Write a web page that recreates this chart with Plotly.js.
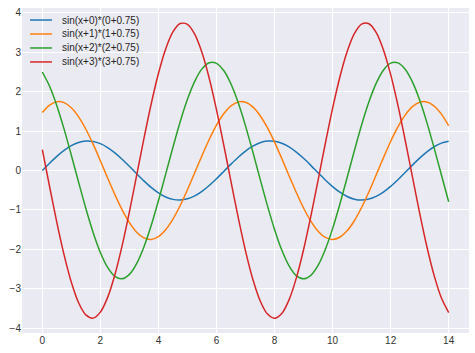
<!DOCTYPE html>
<html>
<head>
<meta charset="utf-8">
<script src="https://cdn.plot.ly/plotly-3.0.1.min.js"></script>
<style>html,body{margin:0;padding:0;background:#fff;}#chart{width:475px;height:353px;}</style>
</head>
<body>
<div id="chart"></div>
<script>
const xValues = [0,0.25,0.5,0.75,1,1.25,1.5,1.75,2,2.25,2.5,2.75,3,3.25,3.5,3.75,4,4.25,4.5,4.75,5,5.25,5.5,5.75,6,6.25,6.5,6.75,7,7.25,7.5,7.75,8,8.25,8.5,8.75,9,9.25,9.5,9.75,10,10.25,10.5,10.75,11,11.25,11.5,11.75,12,12.25,12.5,12.75,13,13.25,13.5,13.75,14];
const seriesNames = ["sin(x+0)*(0+0.75)","sin(x+1)*(1+0.75)","sin(x+2)*(2+0.75)","sin(x+3)*(3+0.75)"];
const series0 = [0,0.1856,0.3596,0.5112,0.6311,0.7118,0.7481,0.7380,0.6820,0.5836,0.4489,0.2863,0.1058,-0.0812,-0.2631,-0.4287,-0.5676,-0.6713,-0.7331,-0.7495,-0.7192,-0.6442,-0.5291,-0.3812,-0.2096,-0.0249,0.1613,0.3375,0.4928,0.6173,0.7035,0.7460,0.7421,0.6920,0.5989,0.4685,0.3091,0.1304,-0.0564,-0.2396,-0.4080,-0.5510,-0.6598,-0.7275,-0.7500,-0.7259,-0.6566,-0.5465,-0.4025,-0.2333,-0.0497,0.1370,0.3152,0.4737,0.6029,0.6945,0.7430];
const series1 = [1.4726,1.6608,1.7456,1.7220,1.5913,1.3617,1.0474,0.6680,0.2469,-0.1894,-0.6139,-1.0003,-1.3244,-1.5663,-1.7106,-1.7488,-1.6781,-1.5031,-1.2346,-0.8895,-0.4890,-0.0581,0.3764,0.7875,1.1498,1.4404,1.6415,1.7406,1.7315,1.6146,1.3974,1.0932,0.7212,0.3043,-0.1316,-0.5591,-0.9520,-1.2857,-1.5395,-1.6975,-1.7500,-1.6937,-1.5321,-1.2752,-0.9391,-0.5444,-0.1160,0.3196,0.7354,1.1053,1.4067,1.6205,1.7336,1.7388,1.6361,1.4315,1.1380];
const series2 = [2.5006,2.1398,1.6459,1.0497,0.3880,-0.2976,-0.9647,-1.5719,-2.0812,-2.4613,-2.6881,-2.7481,-2.6370,-2.3620,-1.9401,-1.3978,-0.7684,-0.0913,0.5915,1.2375,1.8068,2.2635,2.5795,2.7352,2.7209,2.5372,2.1959,1.7179,1.1333,0.4782,-0.2068,-0.8786,-1.4960,-2.0204,-2.4192,-2.6675,-2.7500,-2.6615,-2.4076,-2.0039,-1.4757,-0.8555,-0.1823,0.5022,1.1556,1.7369,2.2105,2.5465,2.7242,2.7324,2.5710,2.2495,1.7883,1.2158,0.5679,-0.1155,-0.7917];
const series3 = [0.5291,-0.4058,-1.3155,-2.1435,-2.8380,-3.3563,-3.6656,-3.7474,-3.5959,-3.2209,-2.6456,-1.9061,-1.0478,-0.1245,0.8066,1.6875,2.4638,3.0866,3.5175,3.7298,3.7103,3.4598,2.9944,2.3426,1.5454,0.6521,-0.2820,-1.1981,-2.0400,-2.7551,-3.2989,-3.6375,-3.7500,-3.6293,-3.2831,-2.7326,-2.0123,-1.1666,-0.2486,0.6848,1.5758,2.3685,3.0143,3.4725,3.7148,3.7260,3.5059,3.0675,2.4386,1.6579,0.7744,-0.1575,-1.0796,-1.9346,-2.6693,-3.2381,-3.6053];
const xTicks = [0,2,4,6,8,10,12,14];
const yTicks = [-4,-3,-2,-1,0,1,2,3,4];
const colors = ["#1f77b4","#ff7f0e","#2ca02c","#d62728"];

const allSeries = [series0, series1, series2, series3];
const traces = allSeries.map((ys, i) => ({
  x: xValues, y: ys, name: seriesNames[i], type: "scatter", mode: "lines",
  line: {color: colors[i], width: 1.5, shape: "spline", smoothing: 0.8}
}));

// custom legend (matplotlib-like compact spacing)
const legendRowY = [0.963, 0.920, 0.877, 0.834];
const shapes = seriesNames.map((n, i) => ({
  type: "line", xref: "paper", yref: "paper", layer: "above",
  x0: 0.018, x1: 0.067, y0: legendRowY[i], y1: legendRowY[i],
  line: {color: colors[i], width: 1.5}
}));
const annotations = seriesNames.map((n, i) => ({
  text: n, xref: "paper", yref: "paper", x: 0.085, y: legendRowY[i],
  xanchor: "left", yanchor: "middle", showarrow: false,
  font: {size: 10, color: "#262626"}
}));

const layout = {
  width: 475, height: 353,
  margin: {l: 22, r: 6, t: 8, b: 20},
  paper_bgcolor: "#ffffff",
  plot_bgcolor: "#eaeaf2",
  font: {family: "Liberation Sans, Arial, sans-serif", size: 10, color: "#333333"},
  showlegend: false,
  shapes: shapes,
  annotations: annotations,
  xaxis: {range: [-0.7, 14.7], tickvals: xTicks, ticktext: xTicks.map(String),
          showgrid: true, gridcolor: "#ffffff", gridwidth: 1, zeroline: false,
          showline: false, ticks: "", ticklen: 0, automargin: false},
  yaxis: {range: [-4.125, 4.125], tickvals: yTicks, ticktext: yTicks.map(v => v < 0 ? "\u2212" + Math.abs(v) : String(v)),
          showgrid: true, gridcolor: "#ffffff", gridwidth: 1, zeroline: false,
          showline: false, ticks: "", ticklen: 0, automargin: false}
};

Plotly.newPlot("chart", traces, layout, {displayModeBar: false, staticPlot: true});
</script>
</body>
</html>
